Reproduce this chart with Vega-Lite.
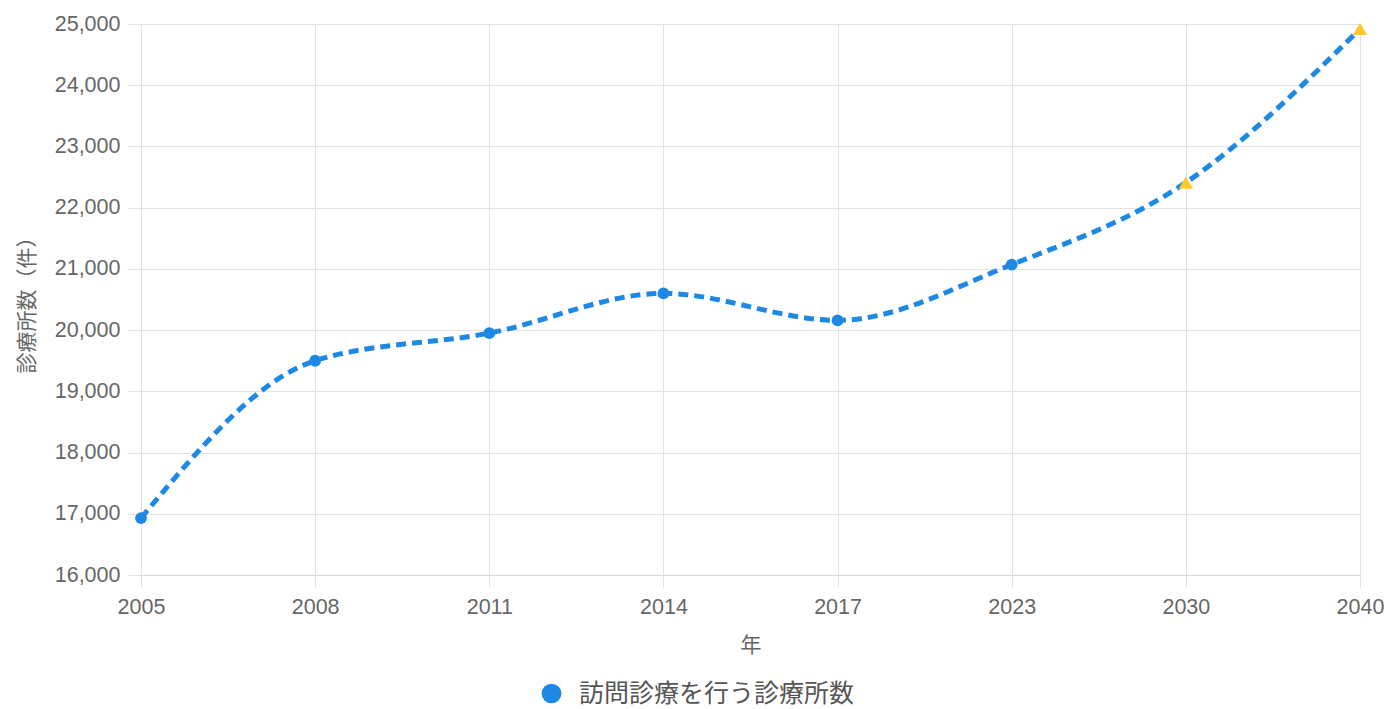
{
  "$schema": "https://vega.github.io/schema/vega-lite/v6.json",
  "autosize": {"type": "none"},
  "width": 1219,
  "height": 551,
  "padding": {"left": 141, "top": 24, "right": 27, "bottom": 134},
  "background": "white",
  "config": {
    "font": "Liberation Sans, Noto Sans CJK JP",
    "view": {"stroke": null},
    "axis": {
      "gridColor": "#e2e2e2",
      "domainColor": "#d6d6d6",
      "tickColor": "#e2e2e2",
      "labelColor": "#666666",
      "titleColor": "#666666",
      "labelFontSize": 21.5,
      "titleFontSize": 21,
      "titleFontWeight": "normal",
      "labelFont": "Liberation Sans, Noto Sans CJK JP",
      "titleFont": "Noto Sans CJK JP"
    }
  },
  "data": {
    "values": [
      {"year": "2005", "value": 16930, "kind": "実績", "series": "訪問診療を行う診療所数"},
      {"year": "2008", "value": 19500, "kind": "実績", "series": "訪問診療を行う診療所数"},
      {"year": "2011", "value": 19950, "kind": "実績", "series": "訪問診療を行う診療所数"},
      {"year": "2014", "value": 20600, "kind": "実績", "series": "訪問診療を行う診療所数"},
      {"year": "2017", "value": 20160, "kind": "実績", "series": "訪問診療を行う診療所数"},
      {"year": "2023", "value": 21070, "kind": "実績", "series": "訪問診療を行う診療所数"},
      {"year": "2030", "value": 22410, "kind": "推計", "series": "訪問診療を行う診療所数"},
      {"year": "2040", "value": 24920, "kind": "推計", "series": "訪問診療を行う診療所数"}
    ]
  },
  "encoding": {
    "x": {
      "field": "year",
      "type": "ordinal",
      "sort": null,
      "scale": {"type": "point", "padding": 0},
      "axis": {
        "title": "年",
        "labelAngle": 0,
        "grid": true,
        "tickSize": 12,
        "labelPadding": 9,
        "titlePadding": 17,
        "domain": true
      }
    },
    "y": {
      "field": "value",
      "type": "quantitative",
      "scale": {"domain": [16000, 25000], "nice": false, "zero": false},
      "axis": {
        "title": "診療所数（件）",
        "values": [16000, 17000, 18000, 19000, 20000, 21000, 22000, 23000, 24000, 25000],
        "format": ",d",
        "tickSize": 13,
        "labelPadding": 8,
        "titlePadding": 17,
        "domain": false
      }
    }
  },
  "layer": [
    {
      "mark": {"type": "line", "interpolate": "monotone", "strokeWidth": 5, "strokeDash": [10, 6]},
      "encoding": {
        "color": {
          "field": "series",
          "type": "nominal",
          "scale": {"range": ["#1E88E5"]},
          "legend": {
            "title": null,
            "orient": "none",
            "legendX": 398,
            "legendY": 657,
            "symbolType": "circle",
            "symbolSize": 390,
            "labelFontSize": 25,
            "labelLimit": 500,
            "labelColor": "#555555",
            "labelFont": "Noto Sans CJK JP",
            "labelOffset": 15,
            "encode": {
              "symbols": {"update": {"fill": {"value": "#1E88E5"}, "strokeWidth": {"value": 0}}}
            }
          }
        }
      }
    },
    {
      "mark": {"type": "point", "filled": true, "opacity": 1},
      "encoding": {
        "shape": {
          "field": "kind",
          "type": "nominal",
          "scale": {"domain": ["実績", "推計"], "range": ["circle", "triangle-up"]},
          "legend": null
        },
        "fill": {
          "field": "kind",
          "type": "nominal",
          "scale": {"domain": ["実績", "推計"], "range": ["#1E88E5", "#FFC928"]},
          "legend": null
        },
        "size": {
          "field": "kind",
          "type": "nominal",
          "scale": {"domain": ["実績", "推計"], "range": [140, 200]},
          "legend": null
        }
      }
    }
  ]
}
